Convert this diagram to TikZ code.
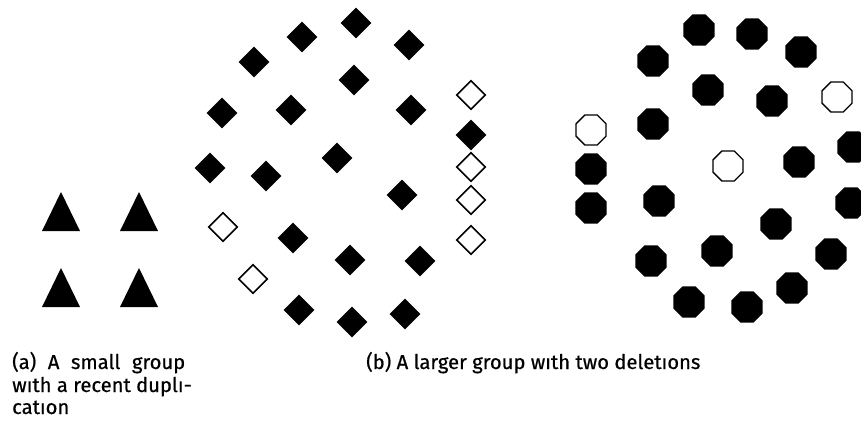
\documentclass[tikz,border=0pt]{standalone}
\usepackage{fontspec}
\setmainfont{Fira Sans}[FakeBold=0.6]
\usetikzlibrary{shapes.geometric}
\begin{document}
\begin{tikzpicture}[x=1pt,y=-1pt,
  fdia/.style={diamond,fill=black,inner sep=0pt,minimum width=31pt,minimum height=31pt},
  odia/.style={diamond,draw=black,line width=1.6pt,fill=white,inner sep=0pt,minimum width=29pt,minimum height=29pt},
  foct/.style={regular polygon,regular polygon sides=8,fill=black,inner sep=0pt,minimum size=34pt},
  ooct/.style={regular polygon,regular polygon sides=8,draw=black,line width=1.4pt,fill=white,inner sep=0pt,minimum size=32.5pt},
  captext/.style={anchor=base west,inner sep=0pt,font=\fontsize{20.2}{22}\selectfont}]
\useasboundingbox (0,0) rectangle (861,422);
% triangles
\foreach \cx/\ty [count=\i] in {61/192,139/192,61/268,139/268}
  \fill (\cx,\ty) -- (\cx+19,\ty+39) -- (\cx-19,\ty+39) -- cycle;
% filled diamonds
\foreach \p [count=\i] in {(356,23),(302,37),(409,45),(254,62),(354,80),(222,113),(291,110),(411,110),(471,135),(210,168),(266,176),(337,158),(402,195),(293,238),(350,260),(420,261),(299,310),(352,322),(405,314)}
  \node[fdia] (d\i) at \p {};
% open diamonds
\foreach \p [count=\i] in {(471,95),(471,167),(471,200),(223,227),(471,240),(253,279)}
  \node[odia] (od\i) at \p {};
% filled octagons
\foreach \p [count=\i] in {(699,30),(752,34),(801,52),(653,61),(708,90),(772,101),(653,124),(591,169),(799,162),(853,147),(591,208),(659,201),(851,203),(776,224),(717,251),(831,254),(651,261),(689,302),(747,307),(792,288)}
  \node[foct] (o\i) at \p {};
% open octagons
\foreach \p [count=\i] in {(837,97),(591,130),(728,166)}
  \node[ooct] (oo\i) at \p {};
% captions
\node[captext] (ca1) at (12,369) {\makebox[173pt][s]{(a) A small group}};
\node[captext] (ca2) at (12,392) {wıth a recent duplı-};
\node[captext] (ca3) at (12,414) {catıon};
\node[captext] (cb) at (366,369) {(b) A larger group wıth two deletıons};
\end{tikzpicture}
\end{document}
